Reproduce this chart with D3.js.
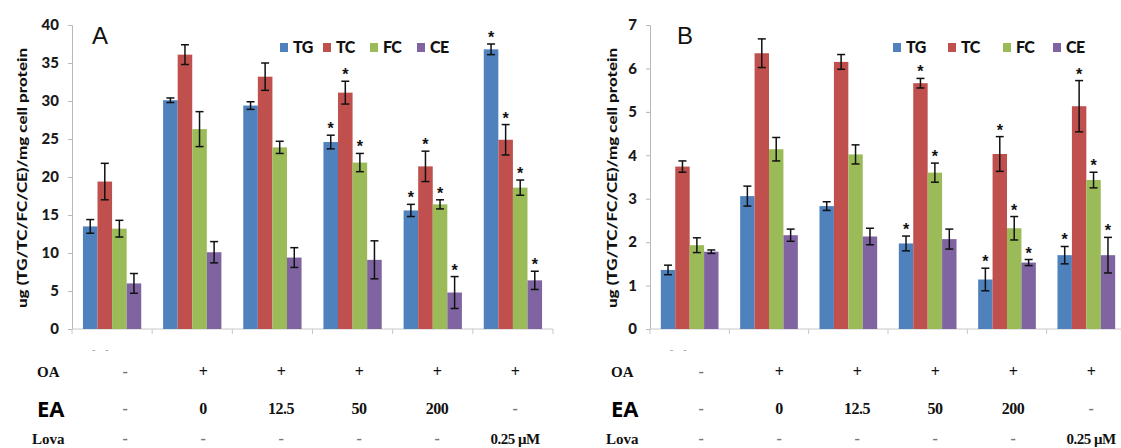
<!DOCTYPE html>
<html>
<head>
<meta charset="utf-8">
<script src="https://cdn.jsdelivr.net/npm/d3@7"></script>
<style>
  html, body { margin: 0; padding: 0; background: #fff; }
  svg { display: block; }
</style>
</head>
<body>
<svg id="chart" width="1121" height="448"></svg>
<script>
// ---------- DATA ----------
const seriesNames = ["TG", "TC", "FC", "CE"];
const seriesColors = ["#4F81BD", "#C0504D", "#9BBB59", "#8064A2"];
const groupIds = ["ctrl", "OA", "EA12.5", "EA50", "EA200", "Lova"];

const oaLabels = ["-", "+", "+", "+", "+", "+"];
const eaLabels = ["-", "0", "12.5", "50", "200", "-"];
const lovaLabels = ["-", "-", "-", "-", "-", "0.25 μM"];

const yTicksA = [0, 5, 10, 15, 20, 25, 30, 35, 40];
const yTicksB = [0, 1, 2, 3, 4, 5, 6, 7];

// Panel A values and SD
const aTG = [13.5, 30.1, 29.4, 24.6, 15.6, 36.8];
const aTGerr = [0.9, 0.3, 0.5, 0.9, 0.8, 0.7];
const aTC = [19.4, 36.1, 33.2, 31.1, 21.4, 24.9];
const aTCerr = [2.4, 1.3, 1.8, 1.5, 2.0, 2.0];
const aFC = [13.2, 26.3, 23.9, 21.9, 16.4, 18.6];
const aFCerr = [1.1, 2.3, 0.8, 1.2, 0.6, 1.0];
const aCE = [6.0, 10.1, 9.4, 9.1, 4.8, 6.4];
const aCEerr = [1.3, 1.4, 1.3, 2.5, 2.1, 1.2];
const aStars = [
  [0, 0, 0, 1, 1, 1],
  [0, 0, 0, 1, 1, 1],
  [0, 0, 0, 1, 1, 1],
  [0, 0, 0, 0, 1, 1]
];

// Panel B values and SD
const bTG = [1.36, 3.06, 2.83, 1.97, 1.14, 1.70];
const bTGerr = [0.11, 0.23, 0.10, 0.17, 0.26, 0.20];
const bTC = [3.74, 6.35, 6.15, 5.66, 4.03, 5.13];
const bTCerr = [0.13, 0.33, 0.17, 0.11, 0.40, 0.59];
const bFC = [1.93, 4.14, 4.02, 3.60, 2.32, 3.43];
const bFCerr = [0.17, 0.27, 0.22, 0.22, 0.27, 0.18];
const bCE = [1.78, 2.16, 2.13, 2.07, 1.53, 1.70];
const bCEerr = [0.04, 0.14, 0.19, 0.23, 0.07, 0.41];
const bStars = [
  [0, 0, 0, 1, 1, 1],
  [0, 0, 0, 1, 1, 1],
  [0, 0, 0, 1, 1, 1],
  [0, 0, 0, 0, 1, 1]
];

// ---------- DRAW ----------
const svg = d3.select("#chart");
svg.append("rect").attr("width", 1121).attr("height", 448).attr("fill", "#fff");

const sansBold = "Lato, 'Open Sans', 'Liberation Sans', sans-serif";
const serifBold = "'Liberation Serif', 'Times New Roman', serif";

function drawPanel(cfg) {
  const g = svg.append("g");
  const x = d3.scaleBand().domain(groupIds).range([cfg.x0, cfg.x1]).paddingInner(0).paddingOuter(0);
  const xs = d3.scaleBand().domain(seriesNames).range([0, x.bandwidth()]).paddingInner(0).paddingOuter(0.75);
  const y = d3.scaleLinear().domain([0, cfg.yMax]).range([329, 25]);
  // columns of the condition table under the plot
  const xr = d3.scalePoint().domain(groupIds).range([cfg.rowStart, cfg.rowStart + 5 * 78]);

  const vals = [cfg.tg, cfg.tc, cfg.fc, cfg.ce];
  const errs = [cfg.tgErr, cfg.tcErr, cfg.fcErr, cfg.ceErr];

  // Y axis
  const yAxis = d3.axisLeft(y).tickValues(cfg.yTicks).tickSize(4).tickPadding(9).tickFormat(d3.format("d"));
  const ya = g.append("g").attr("transform", `translate(${cfg.x0},0)`).call(yAxis);
  ya.select(".domain").attr("stroke", "#b8b8b8");
  ya.selectAll(".tick line").attr("stroke", "#b8b8b8");
  ya.selectAll(".tick text").attr("font-family", sansBold).attr("font-weight", 900)
    .attr("font-size", 15).attr("fill", "#1a1a1a");

  // X axis (group boundaries)
  const xa = g.append("g").attr("transform", "translate(0,329)");
  xa.append("line").attr("x1", cfg.x0).attr("x2", cfg.x1).attr("stroke", "#c8c8c8");
  const bounds = groupIds.map(d => x(d)).concat([cfg.x1]);
  xa.selectAll("line.tk").data(bounds).join("line").attr("class", "tk")
    .attr("x1", d => d).attr("x2", d => d).attr("y1", 0).attr("y2", 5).attr("stroke", "#c8c8c8");

  // Bars
  seriesNames.forEach((s, si) => {
    const sg = g.append("g");
    sg.selectAll("rect").data(groupIds).join("rect")
      .attr("x", d => x(d) + xs(s))
      .attr("width", xs.bandwidth())
      .attr("y", (d, i) => y(vals[si][i]))
      .attr("height", (d, i) => y(0) - y(vals[si][i]))
      .attr("fill", seriesColors[si]);
  });

  // Error bars + stars
  seriesNames.forEach((s, si) => {
    const eg = g.append("g").attr("stroke", "#111").attr("stroke-width", 1.5);
    groupIds.forEach((d, i) => {
      const cx = x(d) + xs(s) + xs.bandwidth() / 2;
      const top = y(vals[si][i] + errs[si][i]);
      const bot = y(vals[si][i] - errs[si][i]);
      eg.append("line").attr("x1", cx).attr("x2", cx).attr("y1", top).attr("y2", bot);
      eg.append("line").attr("x1", cx - 4).attr("x2", cx + 4).attr("y1", top).attr("y2", top);
      eg.append("line").attr("x1", cx - 4).attr("x2", cx + 4).attr("y1", bot).attr("y2", bot);
      if (cfg.stars[si][i]) {
        g.append("text").attr("x", cx).attr("y", top - 1).attr("text-anchor", "middle")
          .attr("font-family", "'Liberation Sans', Arial, sans-serif").attr("font-weight", "bold")
          .attr("font-size", 16).attr("fill", "#111").text("*");
      }
    });
  });

  // Panel letter
  g.append("text").attr("x", cfg.letterX).attr("y", 44).attr("font-family", "'Liberation Sans', Arial, sans-serif")
    .attr("font-size", 24).attr("fill", "#111").text(cfg.letter);

  // Legend
  const lg = g.append("g");
  seriesNames.forEach((s, si) => {
    lg.append("rect").attr("x", cfg.legendX[si]).attr("y", 43).attr("width", 8).attr("height", 9)
      .attr("fill", seriesColors[si]);
    lg.append("text").attr("x", cfg.legendX[si] + 13).attr("y", 53)
      .attr("font-family", sansBold).attr("font-size", 16).attr("font-weight", 900)
      .attr("letter-spacing", -0.6).attr("fill", "#111").text(s);
  });

  // Y axis title
  g.append("text").attr("transform", `translate(${cfg.titleX},178) rotate(-90)`)
    .attr("text-anchor", "middle").attr("font-family", sansBold).attr("font-weight", 900)
    .attr("font-size", 13).attr("textLength", 260).attr("lengthAdjust", "spacingAndGlyphs")
    .attr("fill", "#111").text("ug (TG/TC/FC/CE)/mg cell protein");

  // faint dashes under axis
  g.append("text").attr("x", x(groupIds[0]) + 20).attr("y", 353).attr("font-family", serifBold)
    .attr("font-size", 10).attr("fill", "#999").attr("xml:space", "preserve").text("-    -");

  // Row labels
  g.append("text").attr("x", cfg.rowLabelX).attr("y", 377).attr("font-family", serifBold)
    .attr("font-weight", "bold").attr("font-size", 15).attr("fill", "#111").text("OA");
  g.append("text").attr("x", cfg.rowLabelX).attr("y", 417).attr("font-family", "'Open Sans', 'Liberation Sans', sans-serif")
    .attr("font-weight", "bold").attr("font-size", 22).attr("fill", "#000").text("EA");
  g.append("text").attr("x", cfg.rowLabelX - 5).attr("y", 444).attr("font-family", serifBold)
    .attr("font-weight", "bold").attr("font-size", 15).attr("fill", "#111").text("Lova");

  const rows = [[oaLabels, 377], [eaLabels, 414], [lovaLabels, 444]];
  rows.forEach(([labels, yy]) => {
    g.selectAll(null).data(labels).join("text")
      .attr("x", (d, i) => xr(groupIds[i])).attr("y", yy).attr("text-anchor", "middle")
      .attr("font-family", serifBold).attr("font-weight", "bold")
      .attr("font-size", d => (d.length > 4 ? 15 : 16))
      .attr("letter-spacing", -0.5)
      .attr("fill", d => (d === "-" ? "#777" : "#111")).text(d => d);
  });
}

drawPanel({
  x0: 72, x1: 553, yMax: 40, yTicks: yTicksA,
  tg: aTG, tc: aTC, fc: aFC, ce: aCE,
  tgErr: aTGerr, tcErr: aTCerr, fcErr: aFCerr, ceErr: aCEerr,
  stars: aStars, letter: "A", letterX: 92,
  legendX: [280, 323, 370, 417], titleX: 27, rowLabelX: 37, rowStart: 125
});

drawPanel({
  x0: 650, x1: 1126, yMax: 7, yTicks: yTicksB,
  tg: bTG, tc: bTC, fc: bFC, ce: bCE,
  tgErr: bTGerr, tcErr: bTCerr, fcErr: bFCerr, ceErr: bCEerr,
  stars: bStars, letter: "B", letterX: 677,
  legendX: [893, 948, 1003, 1053], titleX: 617, rowLabelX: 611, rowStart: 701
});
</script>
</body>
</html>
